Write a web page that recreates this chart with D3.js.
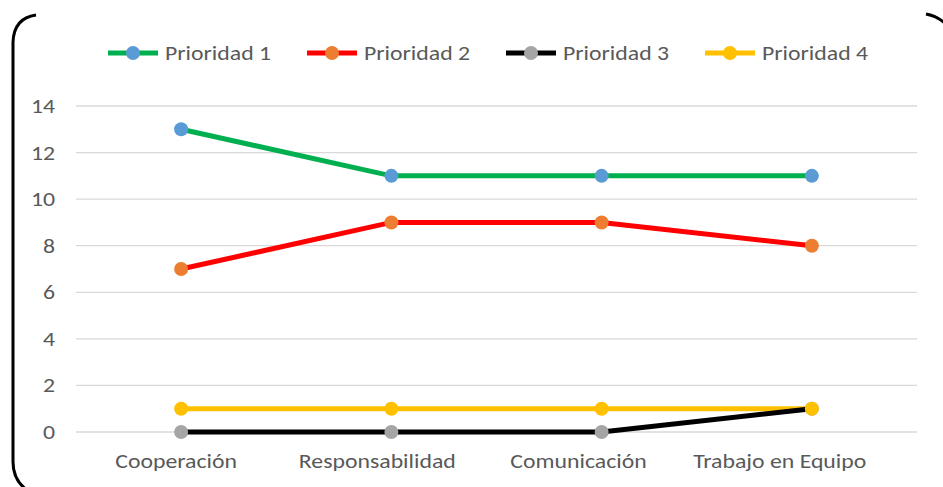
<!DOCTYPE html>
<html>
<head>
<meta charset="utf-8">
<script src="https://cdn.jsdelivr.net/npm/d3@7"></script>
<style>
  body { margin: 0; background: #fff; }
  text { font-family: Carlito, "Open Sans", sans-serif; fill: #595959; }
</style>
</head>
<body>
<svg id="chart"></svg>
<script>
// categorias y series
var categories = ["Cooperación", "Responsabilidad", "Comunicación", "Trabajo en Equipo"];
var seriesNames = ["Prioridad 1", "Prioridad 2", "Prioridad 3", "Prioridad 4"];
var prioridad1 = [13, 11, 11, 11];
var prioridad2 = [7, 9, 9, 8];
var prioridad3 = [0, 0, 0, 1];
var prioridad4 = [1, 1, 1, 1];
var yTicks = [0, 2, 4, 6, 8, 10, 12, 14];

var lineColors = ["#00B050", "#FF0000", "#000000", "#FFC000"];
var markerColors = ["#5B9BD5", "#ED7D31", "#A5A5A5", "#FFC000"];

var size = { width: 943, height: 487 };
var margin = { top: 106, right: 26, bottom: 55, left: 76 };
var width = size.width - margin.left - margin.right;
var height = size.height - margin.top - margin.bottom;

// la imagen original esta estirada en horizontal
var sx = 1.16;
var fontSize = "20.5px";

var series = [prioridad1, prioridad2, prioridad3, prioridad4].map(function(v, i){
  return { name: seriesNames[i], values: v, line: lineColors[i], marker: markerColors[i] };
});

var svg = d3.select("#chart")
  .attr("width", size.width)
  .attr("height", size.height);

// borde (solo partes visibles)
svg.append("path")
  .attr("d", "M36,15 Q14,18 13,42 L13,462 Q13,482 30,492")
  .attr("fill", "none").attr("stroke", "#000").attr("stroke-width", 3);
svg.append("path")
  .attr("d", "M926,14 Q937,16 946,24")
  .attr("fill", "none").attr("stroke", "#000").attr("stroke-width", 3);

var g = svg.append("g")
  .attr("transform", "translate(" + margin.left + "," + margin.top + ")");

var x = d3.scalePoint()
  .domain(categories)
  .range([0, width])
  .padding(0.5);

var y = d3.scaleLinear()
  .domain([0, 14])
  .range([height, 0]);

// lineas de cuadricula
g.selectAll(".grid")
  .data(yTicks)
  .enter().append("line")
  .attr("x1", 0).attr("x2", width)
  .attr("y1", function(d){ return y(d); })
  .attr("y2", function(d){ return y(d); })
  .attr("stroke", "#D9D9D9")
  .attr("stroke-width", 1.3);

var yAxis = d3.axisLeft(y).tickValues(yTicks).tickSize(0).tickPadding(0);
g.append("g").call(yAxis)
  .call(function(s){ s.select(".domain").remove(); })
  .selectAll("text")
  .style("font-size", fontSize)
  .attr("x", -21 / sx)
  .attr("transform", "scale(" + sx + ",1)");

// las etiquetas del eje x quedan algo desplazadas a la izquierda en el original
var x0 = x(categories[0]);
var xAxis = d3.axisBottom(x).tickSize(0).tickPadding(20);
g.append("g").attr("transform", "translate(0," + height + ")").call(xAxis)
  .call(function(s){ s.select(".domain").remove(); })
  .selectAll("text")
  .style("font-size", fontSize)
  .attr("y", 21)
  .attr("x", function(d){ return (-5.5 - (x(d) - x0) * 0.043) / sx; })
  .attr("transform", "scale(" + sx + ",1)");

var line = d3.line()
  .x(function(d, i){ return x(categories[i]); })
  .y(function(d){ return y(d); });

// lineas (la negra sobre la amarilla)
[0, 1, 3, 2].forEach(function(i){
  g.append("path")
    .datum(series[i].values)
    .attr("d", line)
    .attr("fill", "none")
    .attr("stroke", series[i].line)
    .attr("stroke-width", 5);
});

series.forEach(function(s){
  g.selectAll(null)
    .data(s.values)
    .enter().append("circle")
    .attr("cx", function(d, i){ return x(categories[i]); })
    .attr("cy", function(d){ return y(d); })
    .attr("r", 7)
    .attr("fill", s.marker);
});

// leyenda
var legend = svg.append("g").attr("transform", "translate(108,53)");
var item = legend.selectAll("g")
  .data(series)
  .enter().append("g")
  .attr("transform", function(d, i){ return "translate(" + (i * 199) + ",0)"; });
item.append("line")
  .attr("x1", 0).attr("x2", 50)
  .attr("stroke", function(d){ return d.line; })
  .attr("stroke-width", 5);
item.append("circle")
  .attr("cx", 25).attr("r", 7)
  .attr("fill", function(d){ return d.marker; });
item.append("text")
  .attr("x", 57 / sx).attr("dy", "0.35em")
  .attr("transform", "scale(" + sx + ",1)")
  .style("font-size", fontSize)
  .text(function(d){ return d.name; });
</script>
</body>
</html>
